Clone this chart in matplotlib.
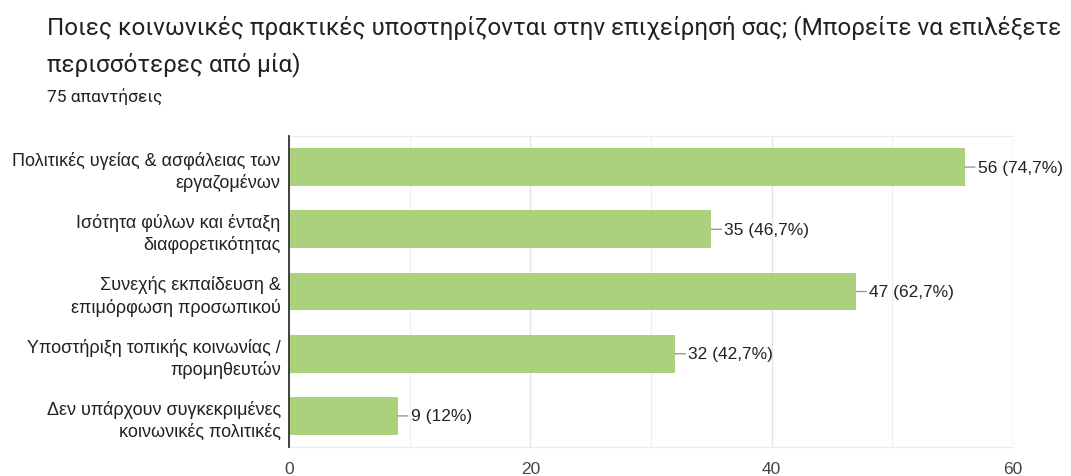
import matplotlib.pyplot as plt
from matplotlib.ticker import MultipleLocator

title_line1 = "Ποιες κοινωνικές πρακτικές υποστηρίζονται στην επιχείρησή σας; (Μπορείτε να επιλέξετε"
title_line2 = "περισσότερες από μία)"
subtitle = "75 απαντήσεις"

categories = [
    "Πολιτικές υγείας & ασφάλειας των\nεργαζομένων",
    "Ισότητα φύλων και ένταξη\nδιαφορετικότητας",
    "Συνεχής εκπαίδευση &\nεπιμόρφωση προσωπικού",
    "Υποστήριξη τοπικής κοινωνίας /\nπρομηθευτών",
    "Δεν υπάρχουν συγκεκριμένες\nκοινωνικές πολιτικές",
]
counts = [56, 35, 47, 32, 9]
percents = ["74,7%", "46,7%", "62,7%", "42,7%", "12%"]

bar_color = "#abd17d"
label_font = "Liberation Sans"

fig = plt.figure(figsize=(10.71, 4.77), dpi=100)
ax = fig.add_axes([289 / 1071, 1 - 448 / 477, (1013 - 289) / 1071, (448 - 137) / 477])

y = list(range(len(categories)))
ax.barh(y, counts, height=0.61, color=bar_color, zorder=2)

ax.set_xlim(0, 60)
ax.set_ylim(4.5, -0.5)
ax.xaxis.set_major_locator(MultipleLocator(20))
ax.xaxis.set_minor_locator(MultipleLocator(10))
ax.grid(axis="x", which="major", color="#e3e3e3", lw=1, zorder=0)
ax.grid(axis="x", which="minor", color="#f0f0f0", lw=1, zorder=0)

ax.set_yticks(y)
ax.set_yticklabels(categories, fontsize=13, family=label_font, color="#222222",
                   linespacing=1.3)
ax.tick_params(axis="y", length=0, pad=6)
ax.tick_params(axis="x", which="both", length=0, pad=10, labelsize=12.5,
               labelcolor="#444444")
for lab in ax.get_xticklabels():
    lab.set_family(label_font)

for s in ["top", "right", "bottom"]:
    ax.spines[s].set_color("#ececec")
ax.spines["right"].set_visible(False)
ax.spines["left"].set_color("#333333")
ax.spines["left"].set_linewidth(1.3)
ax.spines["left"].set_zorder(3)

for yi, c, p in zip(y, counts, percents):
    ax.annotate(f"{c} ({p})", xy=(c, yi), xytext=(13, 0), textcoords="offset pixels",
                ha="left", va="center", fontsize=12.5, family=label_font,
                color="#222222",
                arrowprops=dict(arrowstyle="-", color="#999999", lw=1,
                                shrinkA=0, shrinkB=0))

fig.text(47 / 1071, 1 - 28 / 477, title_line1, fontsize=17.5, family="Roboto",
         color="#202124", va="center", ha="left")
fig.text(47 / 1071, 1 - 65 / 477, title_line2, fontsize=17.5, family="Roboto",
         color="#202124", va="center", ha="left")
fig.text(47 / 1071, 1 - 97 / 477, subtitle, fontsize=12.5, family="Roboto",
         color="#202124", va="center", ha="left")

fig.savefig("out.png", dpi=100)
